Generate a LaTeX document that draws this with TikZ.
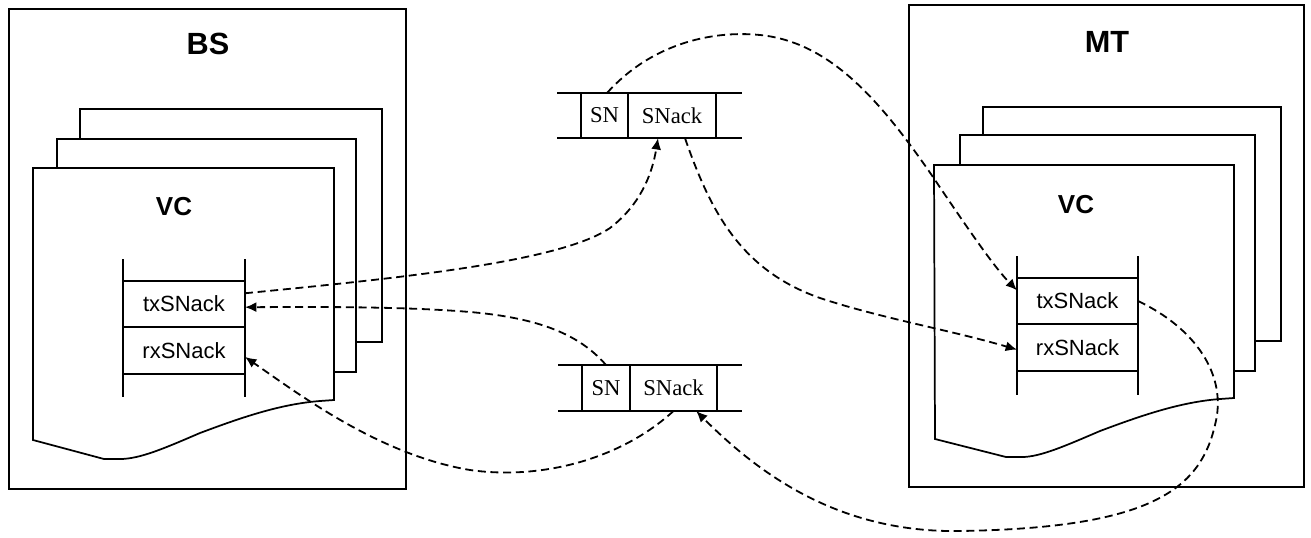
\documentclass[tikz,border=0pt]{standalone}
\usepackage{fontspec}
\setmainfont{Liberation Serif}
\newfontfamily\arialf{Liberation Sans}
\usetikzlibrary{arrows.meta}
\begin{document}
\begin{tikzpicture}[x=0.75pt,y=-0.75pt,
  outerbox/.style={draw=black,line width=1.2pt},
  page/.style={draw=black,fill=white,line width=1.3pt,line join=miter},
  title/.style={font=\arialf\bfseries\fontsize{23}{26}\selectfont,inner sep=0pt},
  vclabel/.style={font=\arialf\bfseries\fontsize{19.5}{22}\selectfont,inner sep=0pt},
  bufcell/.style={draw=black,line width=1.1pt,inner sep=0pt,outer sep=0pt,minimum width=91.5pt,minimum height=34.8pt,font=\arialf\fontsize{16.5}{19}\selectfont},
  bufline/.style={draw=black,line width=1.1pt},
  pkcell/.style={draw=black,line width=1.1pt,inner sep=0pt,outer sep=0pt,minimum height=34pt,font=\fontsize{17}{19}\selectfont},
  pkline/.style={draw=black,line width=1.1pt},
  conn/.style={draw=black,line width=1.35pt,dash pattern=on 6pt off 3.5pt,-{Latex[length=8.5pt,width=7.5pt]}}
]
\useasboundingbox (0,0) rectangle (1311,537);

% outer boxes
\draw[outerbox] (9,9) rectangle (406,489);
\draw[outerbox] (909,5) rectangle (1304,487);
\node[title] (BS) at (208,44) {BS};
\node[title] (MT) at (1107,42) {MT};

% BS VC pages
\draw[page] (80,109) rectangle (382,342);
\draw[page] (57,139) rectangle (356,372);
\draw[page] (33,168) -- (334,168) -- (334,400) -- (320,401)
  .. controls (280,404) and (240,418) .. (200,433)
  .. controls (165,448) and (140,459) .. (120,459) -- (104,459) -- (33,440) -- cycle;
\node[vclabel] (BSvc) at (174,207) {VC};

% MT VC pages
\draw[page] (983,107) rectangle (1281,341);
\draw[page] (960,135) rectangle (1255,371);
\draw[page] (934,165) -- (1234,165) -- (1234,398) -- (1220,399)
  .. controls (1180,402) and (1140,416) .. (1100,431)
  .. controls (1065,446) and (1040,457) .. (1022,457) -- (1006,457) -- (935,439) -- cycle;
\node[vclabel] (MTvc) at (1076,205) {VC};

% BS buffer
\draw[bufline] (123,259) -- (123,397);
\draw[bufline] (245,259) -- (245,397);
\node[bufcell] (BStx) at (184,304) {txSNack};
\node[bufcell,minimum height=35.2pt] (BSrx) at (184,350.5) {rxSNack};

% MT buffer
\draw[bufline] (1017,256) -- (1017,395);
\draw[bufline] (1138,256) -- (1138,395);
\node[bufcell,minimum width=90.75pt] (MTtx) at (1077.5,301) {txSNack};
\node[bufcell,minimum width=90.75pt,minimum height=35.2pt] (MTrx) at (1077.5,347.5) {rxSNack};

% top packet
\draw[pkline] (557,93) -- (742,93);
\draw[pkline] (557,138) -- (742,138);
\node[pkcell,minimum width=35.25pt] (P1SN) at (604.5,115.5) {SN};
\node[pkcell,minimum width=66pt] (P1SNack) at (672,115.5) {SNack};

% bottom packet
\draw[pkline] (558,365) -- (742,365);
\draw[pkline] (558,411) -- (742,411);
\node[pkcell,minimum width=36pt,minimum height=34.5pt] (P2SN) at (606,388) {SN};
\node[pkcell,minimum width=65.25pt,minimum height=34.5pt] (P2SNack) at (673.5,388) {SNack};

% connectors
\draw[conn] ([xshift=2pt]P1SN.north)
  .. controls (650,45) and (710,30) .. (760,35)
  .. controls (830,42) and (880,100) .. (933,177)
  .. controls (970,232) and (995,268) .. (MTtx.170);
\draw[conn] (BStx.10)
  .. controls (400,278) and (560,262) .. (610,228)
  .. controls (640,205) and (652,175) .. ([xshift=-10.5pt]P1SNack.south);
\draw[conn] ([xshift=9.75pt]P1SNack.south)
  .. controls (710,210) and (740,270) .. (820,298)
  .. controls (880,318) and (950,330) .. (MTrx.182);
\draw[conn] (P2SN.north)
  .. controls (580,335) and (540,318) .. (470,312)
  .. controls (400,306) and (300,307) .. (BStx.-3);
\draw[conn] (P2SNack.south)
  .. controls (620,460) and (540,480) .. (470,470)
  .. controls (380,455) and (300,395) .. (BSrx.-6);
\draw[conn] (MTtx.east)
  .. controls (1195,328) and (1228,375) .. (1215,425)
  .. controls (1200,490) and (1150,528) .. (960,531)
  .. controls (840,533) and (760,475) .. ([xshift=17pt]P2SNack.south);
\end{tikzpicture}
\end{document}
